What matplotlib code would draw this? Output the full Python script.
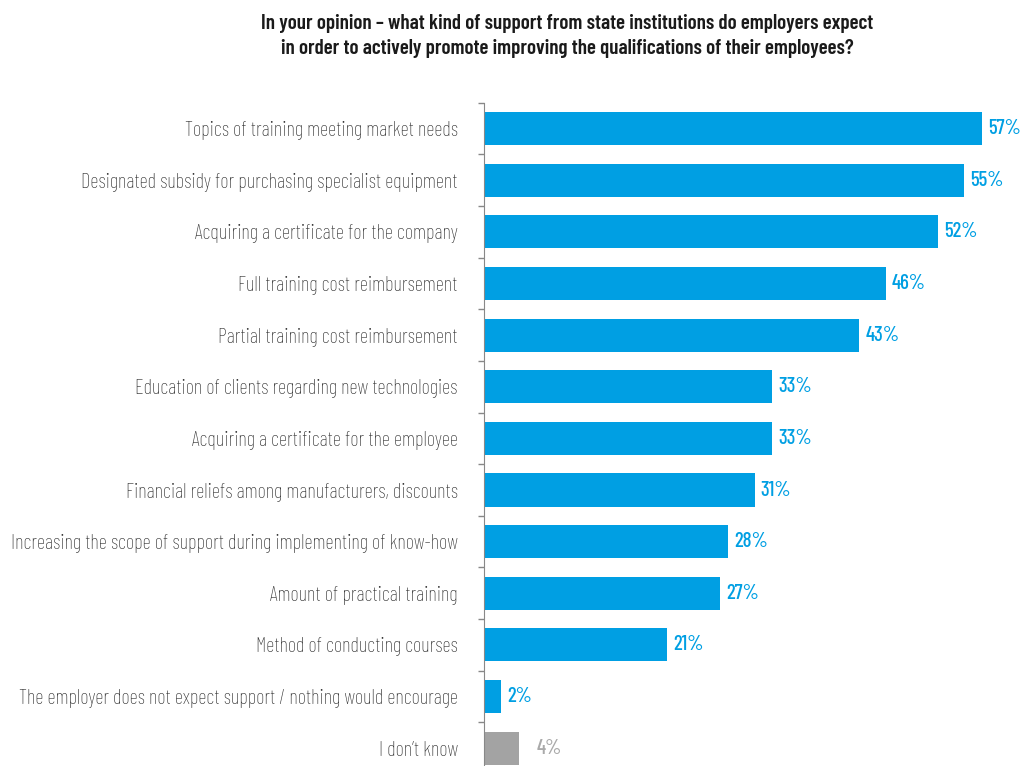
import matplotlib
matplotlib.use('Agg')
import matplotlib.pyplot as plt
from matplotlib import font_manager

categories = [
    'Topics of training meeting market needs',
    'Designated subsidy for purchasing specialist equipment',
    'Acquiring a certificate for the company',
    'Full training cost reimbursement',
    'Partial training cost reimbursement',
    'Education of clients regarding new technologies',
    'Acquiring a certificate for the employee',
    'Financial reliefs among manufacturers, discounts',
    'Increasing the scope of support during implementing of know-how',
    'Amount of practical training',
    'Method of conducting courses',
    'The employer does not expect support / nothing would encourage',
    'I don\u2019t know',
]
values = [57, 55, 52, 46, 43, 33, 33, 31, 28, 27, 21, 2, 4]
value_labels = ['57%', '55%', '52%', '46%', '43%', '33%', '33%', '31%', '28%', '27%', '21%', '2%', '4%']
title = ('In your opinion \u2013 what kind of support from state institutions do employers expect\n'
         'in order to actively promote improving the qualifications of their employees?')

# condensed DIN-like face if we have one
names = {f.name for f in font_manager.fontManager.ttflist}
cond = [n for n in ['Barlow Condensed', 'Roboto Condensed', 'Abel', 'PT Sans Narrow', 'Archivo Narrow']
        if n in names]
fam = cond[:1] + ['DejaVu Sans']
plt.rcParams['font.family'] = fam

blue = '#009fe3'
grey = '#a3a3a3'
colors = [blue] * (len(values) - 1) + [grey]
label_colors = [blue] * (len(values) - 1) + ['#aaaaaa']

fig = plt.figure(figsize=(10.22, 7.66), dpi=100)
ax = fig.add_axes([0.4736, -0.0105, 0.527, 0.8764])

y = list(range(len(values)))
ax.barh(y, values, height=0.64, color=colors)
ax.set_ylim(len(values) - 0.5, -0.5)
ax.set_xlim(0, 61.7)

for i, (v, lab, c) in enumerate(zip(values, value_labels, label_colors)):
    off = 2.0 if i == len(values) - 1 else 0.7
    ax.text(v + off, i, lab, va='center', ha='left', color=c, fontsize=15, fontweight='medium')

ax.set_yticks(y)
ax.set_yticklabels(categories, fontsize=14.8, color='#2e2e2e', fontweight='light')
ax.tick_params(axis='y', which='major', length=0, pad=19)
ax.set_yticks([i - 0.5 for i in range(len(values) + 1)], minor=True)
ax.tick_params(axis='y', which='minor', length=4, color='#888888', width=1)
ax.set_xticks([])
for s in ['top', 'right', 'bottom']:
    ax.spines[s].set_visible(False)
ax.spines['left'].set_color('#888888')

fig.text(0.555, 0.953, title, ha='center', va='center', fontsize=15.1,
         fontweight='semibold', color='#1a1a1a', linespacing=1.35)

fig.savefig('out.png', dpi=100)
